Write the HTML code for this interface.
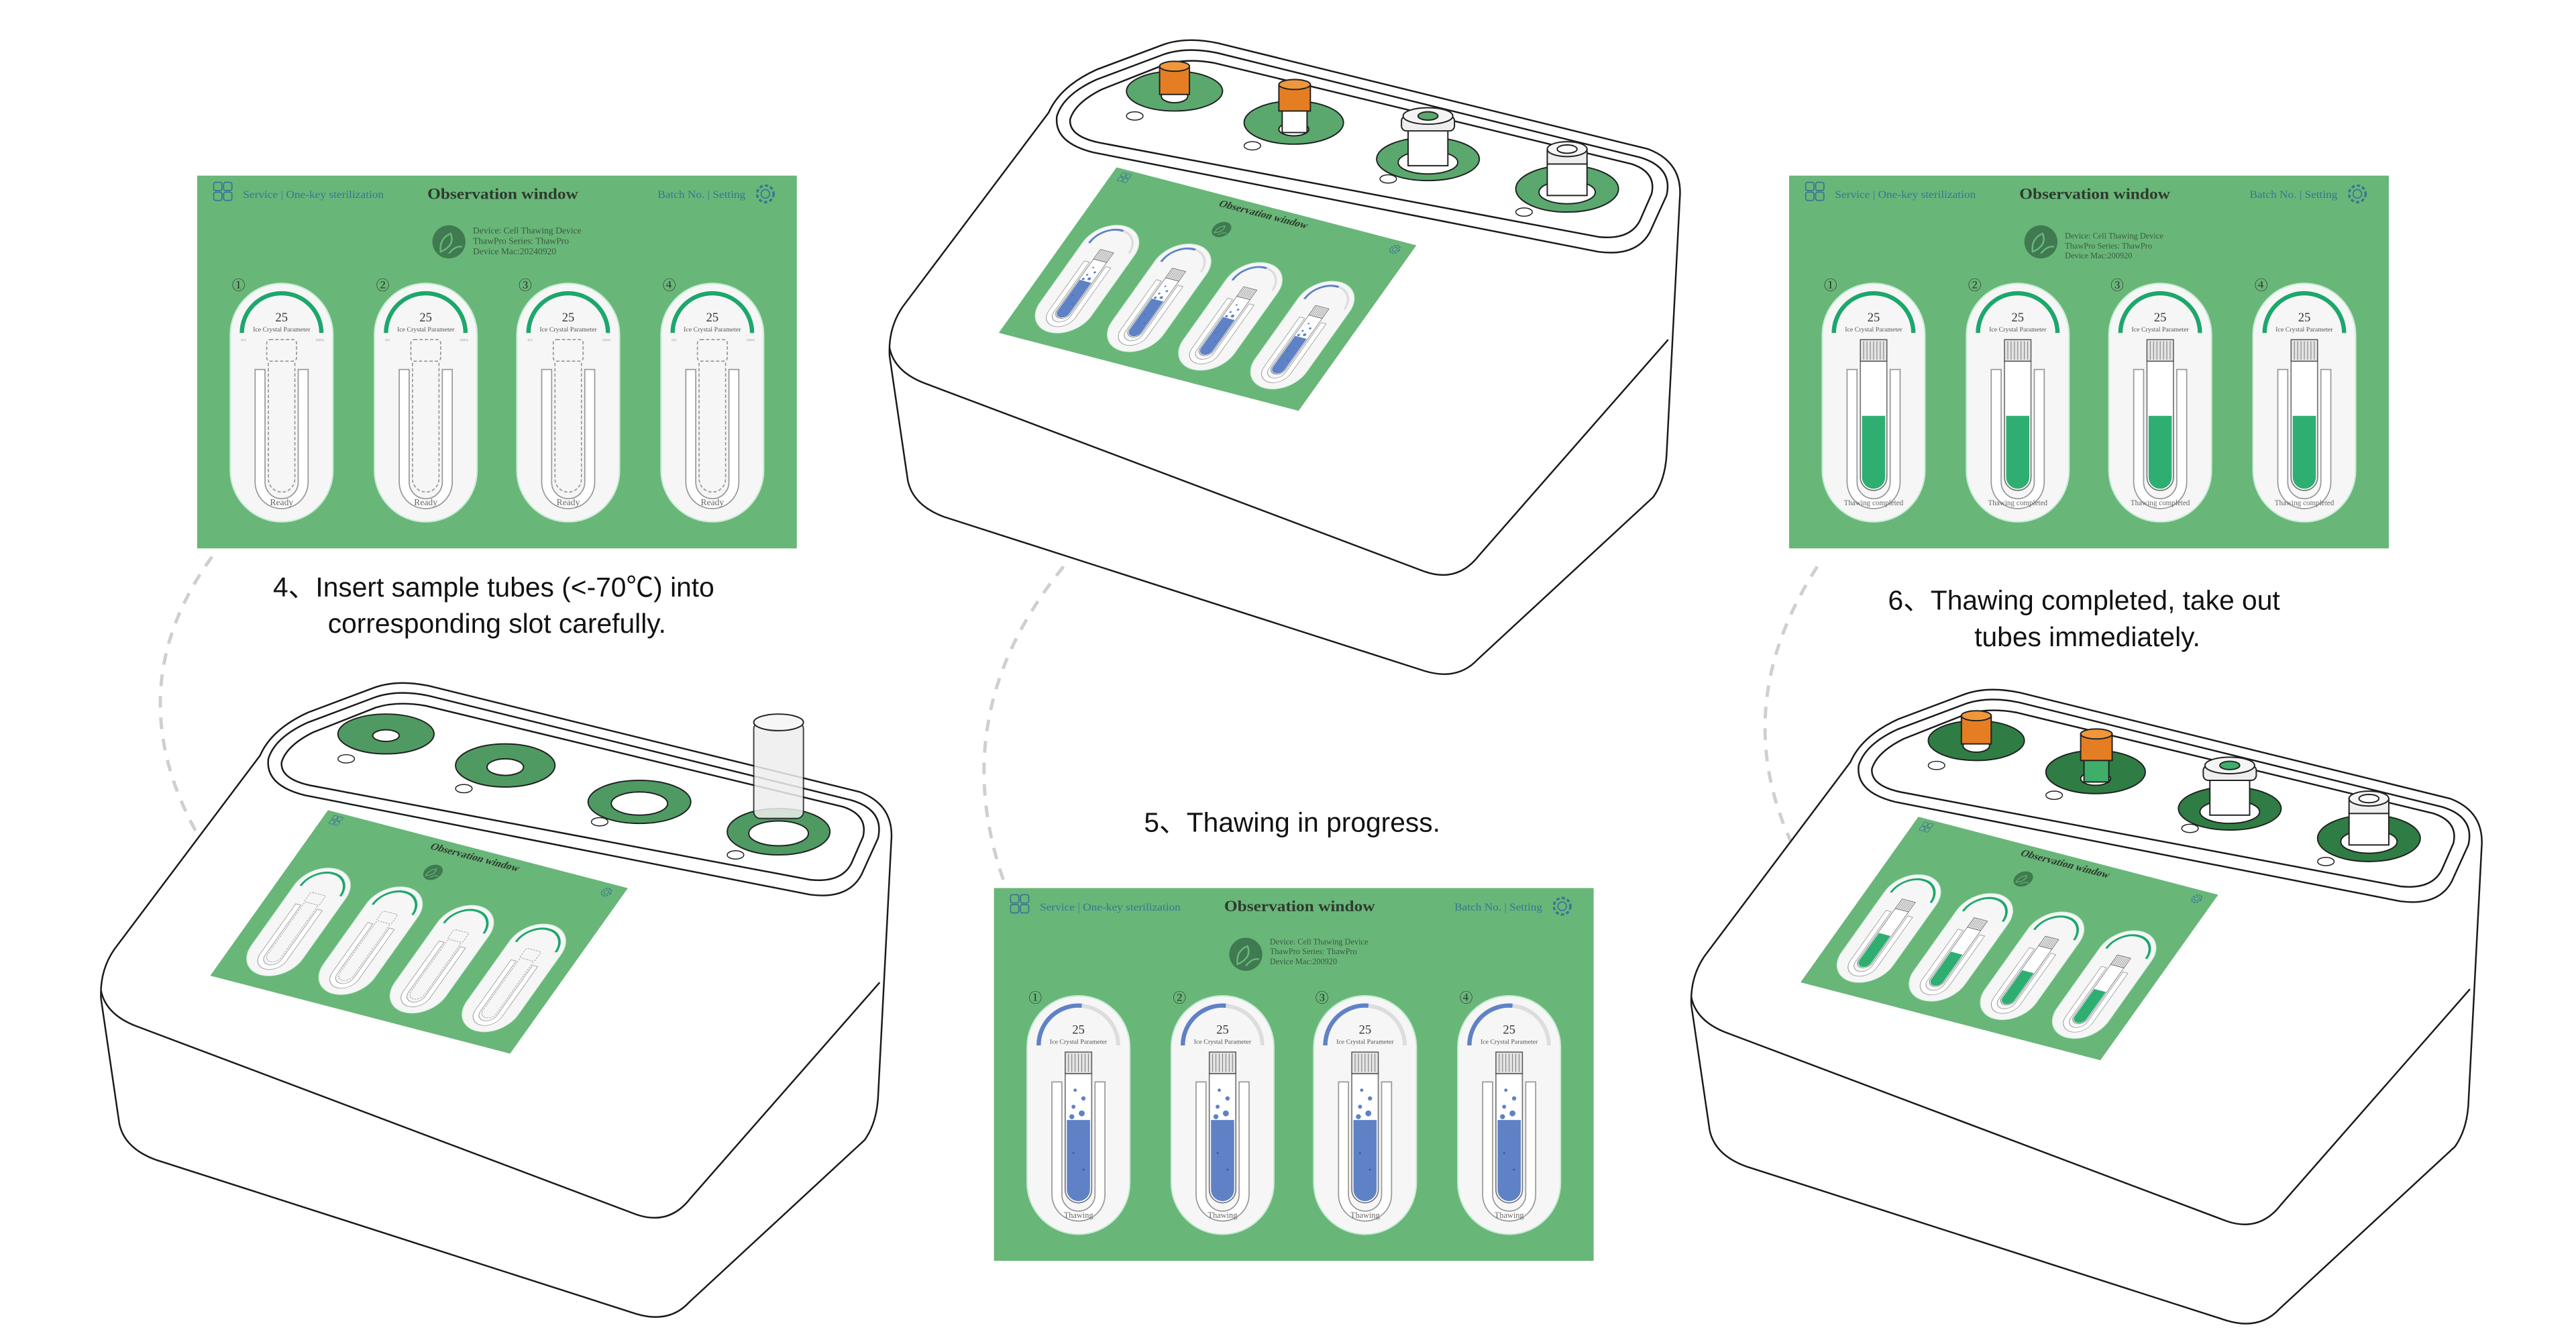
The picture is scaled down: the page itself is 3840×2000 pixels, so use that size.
<!DOCTYPE html>
<html><head><meta charset="utf-8"><style>
html,body{margin:0;padding:0;background:#fff;}
svg{display:block;}
text{font-family:"Liberation Serif","Noto Serif CJK SC",serif;}
.cap{font-family:"Liberation Sans","Noto Sans CJK SC",sans-serif;font-size:16.5px;fill:#111;}
</style></head><body>
<svg width="3840" height="2000" viewBox="0 0 1555 810" preserveAspectRatio="none" xmlns="http://www.w3.org/2000/svg">
<defs>
<g id="card"><rect x="-31" y="65" width="62" height="144" rx="31" fill="#f6f6f6" stroke="#c6ecd5" stroke-width="0.8"/></g>
<g id="ushape"><path d="M-16,117 H-10 V185 A10,10 0 0 0 10,185 V117 H16 V185 A16,16 0 0 1 -16,185 Z" fill="#fff" stroke="#999" stroke-width="0.7"/></g>
<g id="tReady"><use href="#ushape"/>
<rect x="-9" y="99" width="18" height="13" rx="2" fill="none" stroke="#999" stroke-width="0.7" stroke-dasharray="2,1.2"/>
<path d="M-8,113 V183 A8,8 0 0 0 8,183 V113" fill="none" stroke="#999" stroke-width="0.7" stroke-dasharray="2,1.2"/></g>
<g id="capG"><rect x="-8" y="99" width="16" height="13" fill="#e4e4e4" stroke="#555" stroke-width="0.6"/>
<path d="M-6,100V111M-4,100V111M-2,100V111M0,100V111M2,100V111M4,100V111M6,100V111" stroke="#777" stroke-width="0.4"/></g>
<g id="tThaw"><use href="#ushape"/><path d="M-8,112 V182 A8,8 0 0 0 8,182 V112 Z" fill="#fff" stroke="#777" stroke-width="0.7"/>
<path d="M-7,140 V182 A7,7 0 0 0 7,182 V140 Z" fill="#5f82c6"/>
<circle cx="-2" cy="122" r="1" fill="#5f82c6"/><circle cx="3" cy="127" r="1.3" fill="#5f82c6"/><circle cx="-3" cy="132" r="1.2" fill="#5f82c6"/><circle cx="2" cy="136" r="1.8" fill="#5f82c6"/><circle cx="-4" cy="138" r="1.5" fill="#5f82c6"/>
<circle cx="-3" cy="160" r="0.6" fill="#3b5a9a"/><circle cx="3" cy="170" r="0.6" fill="#3b5a9a"/>
<use href="#capG"/></g>
<g id="tDone"><use href="#ushape"/><path d="M-8,112 V182 A8,8 0 0 0 8,182 V112 Z" fill="#fff" stroke="#777" stroke-width="0.7"/>
<path d="M-7,145 V182 A7,7 0 0 0 7,182 V145 Z" fill="#2fae72"/><use href="#capG"/></g>
<path id="arcG" d="M-24,95 A24,24 0 0 1 24,95" fill="none" stroke="#1da76c" stroke-width="2.6"/>
<g id="arcT"><path d="M-24,95 A24,24 0 0 1 24,95" fill="none" stroke="#ddd" stroke-width="2.4"/><path d="M-24,95 A24,24 0 0 1 2,71" fill="none" stroke="#5f82c6" stroke-width="2.6"/></g>
<g id="hdr">
<rect x="10" y="4" width="5" height="5" rx="1.2" fill="none" stroke="#3b7493" stroke-width="0.7"/><rect x="16" y="4" width="5" height="5" rx="1.2" fill="none" stroke="#3b7493" stroke-width="0.7"/>
<rect x="10" y="10" width="5" height="5" rx="1.2" fill="none" stroke="#3b7493" stroke-width="0.7"/><rect x="16" y="10" width="5" height="5" rx="1.2" fill="none" stroke="#3b7493" stroke-width="0.7"/>
<circle cx="343" cy="11" r="5" fill="none" stroke="#3b7493" stroke-width="1.4" stroke-dasharray="2,1.3"/><circle cx="343" cy="11" r="2.6" fill="none" stroke="#3b7493" stroke-width="0.7"/>
<circle cx="152" cy="40" r="10" fill="#3f7a50"/><path d="M147,46 Q146,38 153,35 Q156,42 147,46 Z M152,47 Q156,42 160,43" fill="none" stroke="#69b679" stroke-width="1"/>
</g>
<g id="miniReady"><rect width="362" height="225" fill="#69b679"/><use href="#hdr"/>
<g transform="translate(51,0)"><use href="#card"/><use href="#arcG"/><use href="#tReady"/></g>
<g transform="translate(138,0)"><use href="#card"/><use href="#arcG"/><use href="#tReady"/></g>
<g transform="translate(224,0)"><use href="#card"/><use href="#arcG"/><use href="#tReady"/></g>
<g transform="translate(311,0)"><use href="#card"/><use href="#arcG"/><use href="#tReady"/></g></g>
<g id="miniThaw"><rect width="362" height="225" fill="#69b679"/><use href="#hdr"/>
<g transform="translate(51,0)"><use href="#card"/><use href="#arcT"/><use href="#tThaw"/></g>
<g transform="translate(138,0)"><use href="#card"/><use href="#arcT"/><use href="#tThaw"/></g>
<g transform="translate(224,0)"><use href="#card"/><use href="#arcT"/><use href="#tThaw"/></g>
<g transform="translate(311,0)"><use href="#card"/><use href="#arcT"/><use href="#tThaw"/></g></g>
<g id="miniDone"><rect width="362" height="225" fill="#69b679"/><use href="#hdr"/>
<g transform="translate(51,0)"><use href="#card"/><use href="#arcG"/><use href="#tDone"/></g>
<g transform="translate(138,0)"><use href="#card"/><use href="#arcG"/><use href="#tDone"/></g>
<g transform="translate(224,0)"><use href="#card"/><use href="#arcG"/><use href="#tDone"/></g>
<g transform="translate(311,0)"><use href="#card"/><use href="#arcG"/><use href="#tDone"/></g></g>
<g id="body" fill="none" stroke="#1a1a1a" stroke-width="1">
<path d="M633,68 L545,185 Q536,198 537,215 L548,290 Q551,305 570,312 L860,405 Q880,411 892,398 L998,300 Q1005,290 1006,275 L1014,120 Q1016,98 995,90 L735,26 Q716,22 702,27 L662,42 Q640,52 633,68 Z" fill="#fff"/>
<path d="M638,70 Q642,57 662,48 L702,33 Q716,28 735,32 L990,95 Q1010,101 1006,118 L996,140 Q988,155 965,152 L660,92 Q636,86 638,70 Z"/>
<path d="M646,72 Q649,62 665,54 L703,39 Q716,35 733,38 L985,99 Q1000,104 997,117 L990,133 Q984,145 965,143 L663,86 Q645,82 646,72 Z"/>
<path d="M537,210 Q540,225 560,232 L860,345 Q880,352 893,335 L1007,205"/>
</g>
</defs>

<g fill="none" stroke="#cfcfcf" stroke-width="2" stroke-dasharray="7,6">
<path d="M128,336 Q60,430 140,535"/>
<path d="M642,342 Q570,430 606,532"/>
<path d="M1097,342 Q1040,430 1086,518"/>
</g>

<g transform="translate(119,106)">
<rect width="362" height="225" fill="#69b679"/><use href="#hdr"/>
<text x="27.7" y="13.5" font-size="6.5" fill="#3b7493" textLength="85" lengthAdjust="spacingAndGlyphs">Service | One-key sterilization</text>
<text x="184.5" y="14" font-size="9.5" font-weight="bold" fill="#2e3b2f" text-anchor="middle" textLength="91" lengthAdjust="spacingAndGlyphs">Observation window</text>
<text x="331" y="13.5" font-size="6.5" fill="#3b7493" text-anchor="end" textLength="53" lengthAdjust="spacingAndGlyphs">Batch No. | Setting</text>
<text x="166.5" y="35" font-size="5.5" fill="#3a5c42">Device: Cell Thawing Device</text>
<text x="166.5" y="41.3" font-size="5.5" fill="#3a5c42">ThawPro Series: ThawPro</text>
<text x="166.5" y="47.5" font-size="5.5" fill="#3a5c42">Device Mac:20240920</text>
<g transform="translate(51,0)"><use href="#card"/><use href="#arcG"/><use href="#tReady"/><text x="-26" y="69" font-size="8" fill="#222" text-anchor="middle">①</text><text x="0" y="88" font-size="7.5" text-anchor="middle" fill="#333" font-family="Liberation Sans">25</text><text x="0" y="94" font-size="4" text-anchor="middle" fill="#555">Ice Crystal Parameter</text><text x="-23" y="100" font-size="2.3" fill="#999" text-anchor="middle">0%</text><text x="23" y="100" font-size="2.3" fill="#999" text-anchor="middle">100%</text><text x="0" y="199" font-size="5.5" text-anchor="middle" fill="#666">Ready</text></g>
<g transform="translate(138,0)"><use href="#card"/><use href="#arcG"/><use href="#tReady"/><text x="-26" y="69" font-size="8" fill="#222" text-anchor="middle">②</text><text x="0" y="88" font-size="7.5" text-anchor="middle" fill="#333" font-family="Liberation Sans">25</text><text x="0" y="94" font-size="4" text-anchor="middle" fill="#555">Ice Crystal Parameter</text><text x="-23" y="100" font-size="2.3" fill="#999" text-anchor="middle">0%</text><text x="23" y="100" font-size="2.3" fill="#999" text-anchor="middle">100%</text><text x="0" y="199" font-size="5.5" text-anchor="middle" fill="#666">Ready</text></g>
<g transform="translate(224,0)"><use href="#card"/><use href="#arcG"/><use href="#tReady"/><text x="-26" y="69" font-size="8" fill="#222" text-anchor="middle">③</text><text x="0" y="88" font-size="7.5" text-anchor="middle" fill="#333" font-family="Liberation Sans">25</text><text x="0" y="94" font-size="4" text-anchor="middle" fill="#555">Ice Crystal Parameter</text><text x="-23" y="100" font-size="2.3" fill="#999" text-anchor="middle">0%</text><text x="23" y="100" font-size="2.3" fill="#999" text-anchor="middle">100%</text><text x="0" y="199" font-size="5.5" text-anchor="middle" fill="#666">Ready</text></g>
<g transform="translate(311,0)"><use href="#card"/><use href="#arcG"/><use href="#tReady"/><text x="-26" y="69" font-size="8" fill="#222" text-anchor="middle">④</text><text x="0" y="88" font-size="7.5" text-anchor="middle" fill="#333" font-family="Liberation Sans">25</text><text x="0" y="94" font-size="4" text-anchor="middle" fill="#555">Ice Crystal Parameter</text><text x="-23" y="100" font-size="2.3" fill="#999" text-anchor="middle">0%</text><text x="23" y="100" font-size="2.3" fill="#999" text-anchor="middle">100%</text><text x="0" y="199" font-size="5.5" text-anchor="middle" fill="#666">Ready</text></g>
</g>

<g transform="translate(1080,106)">
<rect width="362" height="225" fill="#69b679"/><use href="#hdr"/>
<text x="27.7" y="13.5" font-size="6.5" fill="#3b7493" textLength="85" lengthAdjust="spacingAndGlyphs">Service | One-key sterilization</text>
<text x="184.5" y="14" font-size="9.5" font-weight="bold" fill="#2e3b2f" text-anchor="middle" textLength="91" lengthAdjust="spacingAndGlyphs">Observation window</text>
<text x="331" y="13.5" font-size="6.5" fill="#3b7493" text-anchor="end" textLength="53" lengthAdjust="spacingAndGlyphs">Batch No. | Setting</text>
<text x="166.5" y="38" font-size="5" fill="#3a5c42">Device: Cell Thawing Device</text>
<text x="166.5" y="44" font-size="5" fill="#3a5c42">ThawPro Series: ThawPro</text>
<text x="166.5" y="50" font-size="5" fill="#3a5c42">Device Mac:200920</text>
<g transform="translate(51,0)"><use href="#card"/><use href="#arcG"/><use href="#tDone"/><text x="-26" y="69" font-size="8" fill="#222" text-anchor="middle">①</text><text x="0" y="88" font-size="7.5" text-anchor="middle" fill="#333" font-family="Liberation Sans">25</text><text x="0" y="94" font-size="4" text-anchor="middle" fill="#555">Ice Crystal Parameter</text><text x="0" y="199" font-size="4.5" text-anchor="middle" fill="#666">Thawing completed</text></g>
<g transform="translate(138,0)"><use href="#card"/><use href="#arcG"/><use href="#tDone"/><text x="-26" y="69" font-size="8" fill="#222" text-anchor="middle">②</text><text x="0" y="88" font-size="7.5" text-anchor="middle" fill="#333" font-family="Liberation Sans">25</text><text x="0" y="94" font-size="4" text-anchor="middle" fill="#555">Ice Crystal Parameter</text><text x="0" y="199" font-size="4.5" text-anchor="middle" fill="#666">Thawing completed</text></g>
<g transform="translate(224,0)"><use href="#card"/><use href="#arcG"/><use href="#tDone"/><text x="-26" y="69" font-size="8" fill="#222" text-anchor="middle">③</text><text x="0" y="88" font-size="7.5" text-anchor="middle" fill="#333" font-family="Liberation Sans">25</text><text x="0" y="94" font-size="4" text-anchor="middle" fill="#555">Ice Crystal Parameter</text><text x="0" y="199" font-size="4.5" text-anchor="middle" fill="#666">Thawing completed</text></g>
<g transform="translate(311,0)"><use href="#card"/><use href="#arcG"/><use href="#tDone"/><text x="-26" y="69" font-size="8" fill="#222" text-anchor="middle">④</text><text x="0" y="88" font-size="7.5" text-anchor="middle" fill="#333" font-family="Liberation Sans">25</text><text x="0" y="94" font-size="4" text-anchor="middle" fill="#555">Ice Crystal Parameter</text><text x="0" y="199" font-size="4.5" text-anchor="middle" fill="#666">Thawing completed</text></g>
</g>

<g transform="translate(600,536)">
<rect width="362" height="225" fill="#69b679"/><use href="#hdr"/>
<text x="27.7" y="13.5" font-size="6.5" fill="#3b7493" textLength="85" lengthAdjust="spacingAndGlyphs">Service | One-key sterilization</text>
<text x="184.5" y="14" font-size="9.5" font-weight="bold" fill="#2e3b2f" text-anchor="middle" textLength="91" lengthAdjust="spacingAndGlyphs">Observation window</text>
<text x="331" y="13.5" font-size="6.5" fill="#3b7493" text-anchor="end" textLength="53" lengthAdjust="spacingAndGlyphs">Batch No. | Setting</text>
<text x="166.5" y="34" font-size="5" fill="#3a5c42">Device: Cell Thawing Device</text>
<text x="166.5" y="40" font-size="5" fill="#3a5c42">ThawPro Series: ThawPro</text>
<text x="166.5" y="46" font-size="5" fill="#3a5c42">Device Mac:200920</text>
<g transform="translate(51,0)"><use href="#card"/><use href="#arcT"/><use href="#tThaw"/><text x="-26" y="69" font-size="8" fill="#222" text-anchor="middle">①</text><text x="0" y="88" font-size="7.5" text-anchor="middle" fill="#333" font-family="Liberation Sans">25</text><text x="0" y="94" font-size="4" text-anchor="middle" fill="#555">Ice Crystal Parameter</text><text x="0" y="199" font-size="5" text-anchor="middle" fill="#666">Thawing</text></g>
<g transform="translate(138,0)"><use href="#card"/><use href="#arcT"/><use href="#tThaw"/><text x="-26" y="69" font-size="8" fill="#222" text-anchor="middle">②</text><text x="0" y="88" font-size="7.5" text-anchor="middle" fill="#333" font-family="Liberation Sans">25</text><text x="0" y="94" font-size="4" text-anchor="middle" fill="#555">Ice Crystal Parameter</text><text x="0" y="199" font-size="5" text-anchor="middle" fill="#666">Thawing</text></g>
<g transform="translate(224,0)"><use href="#card"/><use href="#arcT"/><use href="#tThaw"/><text x="-26" y="69" font-size="8" fill="#222" text-anchor="middle">③</text><text x="0" y="88" font-size="7.5" text-anchor="middle" fill="#333" font-family="Liberation Sans">25</text><text x="0" y="94" font-size="4" text-anchor="middle" fill="#555">Ice Crystal Parameter</text><text x="0" y="199" font-size="5" text-anchor="middle" fill="#666">Thawing</text></g>
<g transform="translate(311,0)"><use href="#card"/><use href="#arcT"/><use href="#tThaw"/><text x="-26" y="69" font-size="8" fill="#222" text-anchor="middle">④</text><text x="0" y="88" font-size="7.5" text-anchor="middle" fill="#333" font-family="Liberation Sans">25</text><text x="0" y="94" font-size="4" text-anchor="middle" fill="#555">Ice Crystal Parameter</text><text x="0" y="199" font-size="5" text-anchor="middle" fill="#666">Thawing</text></g>
</g>

<use href="#body"/>
<g transform="matrix(0.5,0.13,-0.316,0.444,674,101)"><use href="#miniThaw"/>
<text x="184" y="14" font-size="12" font-weight="bold" fill="#2e3b2f" text-anchor="middle">Observation window</text></g>
<g stroke="#222" stroke-width="0.8">
<ellipse cx="709" cy="55" rx="29" ry="12" fill="#5aa86d"/><ellipse cx="709" cy="58" rx="8" ry="4" fill="#fff"/>
<rect x="700" y="40" width="18" height="17" fill="#e57e22"/><ellipse cx="709" cy="40" rx="9" ry="3" fill="#f0973c"/>
<ellipse cx="781" cy="74" rx="30" ry="13" fill="#5aa86d"/><ellipse cx="781" cy="78" rx="9" ry="4" fill="#fff"/>
<rect x="774" y="65" width="15" height="15" fill="#fff"/><rect x="772" y="51" width="19" height="16" fill="#e57e22"/><ellipse cx="781.5" cy="51" rx="9.5" ry="3" fill="#f0973c"/>
<ellipse cx="862" cy="96" rx="31" ry="13" fill="#5aa86d"/><ellipse cx="862" cy="98" rx="18" ry="7" fill="#fff"/>
<rect x="850" y="78" width="24" height="22" fill="#fff"/><rect x="846" y="70" width="32" height="9" rx="3" fill="#eee"/><ellipse cx="862" cy="70" rx="15" ry="5" fill="#f4f4f4"/><ellipse cx="862" cy="70" rx="6" ry="2.5" fill="#5aa86d"/>
<ellipse cx="946" cy="114" rx="31" ry="14" fill="#5aa86d"/><ellipse cx="946" cy="116" rx="17" ry="7" fill="#fff"/>
<rect x="934" y="98" width="24" height="20" fill="#fff"/><rect x="934" y="90" width="24" height="9" fill="#eee"/><ellipse cx="946" cy="90" rx="12" ry="4.5" fill="#f4f4f4"/><ellipse cx="946" cy="90" rx="6" ry="2.5" fill="#fff"/>
</g>
<g fill="none" stroke="#222" stroke-width="0.6"><ellipse cx="685" cy="70" rx="5" ry="2.5"/><ellipse cx="756" cy="88" rx="5" ry="2.5"/><ellipse cx="838" cy="108" rx="5" ry="2.5"/><ellipse cx="920" cy="128" rx="5" ry="2.5"/></g>

<g transform="translate(-476,388)">
<use href="#body"/>
<g transform="matrix(0.5,0.13,-0.316,0.444,674,101)"><use href="#miniReady"/>
<text x="184" y="14" font-size="12" font-weight="bold" fill="#2e3b2f" text-anchor="middle">Observation window</text></g>
<g stroke="#222" stroke-width="0.8">
<ellipse cx="709" cy="55" rx="29" ry="12" fill="#4f9a62"/><ellipse cx="709" cy="56" rx="8" ry="3.5" fill="#fff"/>
<ellipse cx="781" cy="74" rx="30" ry="13" fill="#4f9a62"/><ellipse cx="781" cy="75" rx="11" ry="5" fill="#fff"/>
<ellipse cx="862" cy="96" rx="31" ry="13" fill="#4f9a62"/><ellipse cx="862" cy="97" rx="17" ry="7" fill="#fff"/>
<ellipse cx="946" cy="114" rx="31" ry="14" fill="#4f9a62"/><ellipse cx="946" cy="115" rx="18" ry="7.5" fill="#fff"/>
<rect x="931" y="48" width="30" height="58" rx="4" fill="#eeeeee" opacity="0.85"/><ellipse cx="946" cy="48" rx="15" ry="5" fill="#f6f6f6"/>
</g>
<g fill="none" stroke="#222" stroke-width="0.6"><ellipse cx="685" cy="70" rx="5" ry="2.5"/><ellipse cx="756" cy="88" rx="5" ry="2.5"/><ellipse cx="838" cy="108" rx="5" ry="2.5"/><ellipse cx="920" cy="128" rx="5" ry="2.5"/></g>
</g>

<g transform="translate(484,392)">
<use href="#body"/>
<g transform="matrix(0.5,0.13,-0.316,0.444,674,101)"><use href="#miniDone"/>
<text x="184" y="14" font-size="12" font-weight="bold" fill="#2e3b2f" text-anchor="middle">Observation window</text></g>
<g stroke="#222" stroke-width="0.8">
<ellipse cx="709" cy="55" rx="29" ry="12" fill="#2f7d44"/><ellipse cx="709" cy="58" rx="8" ry="4" fill="#fff"/>
<rect x="700" y="40" width="18" height="17" fill="#e57e22"/><ellipse cx="709" cy="40" rx="9" ry="3" fill="#f0973c"/>
<ellipse cx="781" cy="74" rx="30" ry="13" fill="#2f7d44"/><ellipse cx="781" cy="78" rx="9" ry="4" fill="#fff"/>
<rect x="774" y="65" width="15" height="15" fill="#3fae6a"/><rect x="772" y="51" width="19" height="16" fill="#e57e22"/><ellipse cx="781.5" cy="51" rx="9.5" ry="3" fill="#f0973c"/>
<ellipse cx="862" cy="96" rx="31" ry="13" fill="#2f7d44"/><ellipse cx="862" cy="98" rx="18" ry="7" fill="#fff"/>
<rect x="850" y="78" width="24" height="22" fill="#fff"/><rect x="846" y="70" width="32" height="9" rx="3" fill="#eee"/><ellipse cx="862" cy="70" rx="15" ry="5" fill="#f4f4f4"/><ellipse cx="862" cy="70" rx="6" ry="2.5" fill="#3fae6a"/>
<ellipse cx="946" cy="114" rx="31" ry="14" fill="#2f7d44"/><ellipse cx="946" cy="116" rx="17" ry="7" fill="#fff"/>
<rect x="934" y="98" width="24" height="20" fill="#fff"/><rect x="934" y="90" width="24" height="9" fill="#eee"/><ellipse cx="946" cy="90" rx="12" ry="4.5" fill="#f4f4f4"/><ellipse cx="946" cy="90" rx="6" ry="2.5" fill="#fff"/>
</g>
<g fill="none" stroke="#222" stroke-width="0.6"><ellipse cx="685" cy="70" rx="5" ry="2.5"/><ellipse cx="756" cy="88" rx="5" ry="2.5"/><ellipse cx="838" cy="108" rx="5" ry="2.5"/><ellipse cx="920" cy="128" rx="5" ry="2.5"/></g>
</g>

<text class="cap" x="298" y="360" text-anchor="middle">4、Insert sample tubes (&lt;-70℃) into</text>
<text class="cap" x="300" y="382" text-anchor="middle">corresponding slot carefully.</text>
<text class="cap" x="780" y="502" text-anchor="middle">5、Thawing in progress.</text>
<text class="cap" x="1258" y="368" text-anchor="middle">6、Thawing completed, take out</text>
<text class="cap" x="1260" y="390" text-anchor="middle">tubes immediately.</text>
</svg>
</body></html>
